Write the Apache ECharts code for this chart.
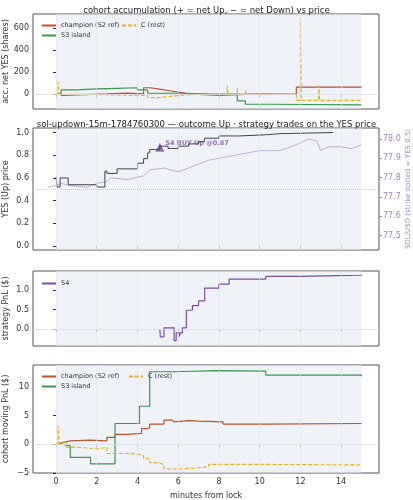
<!DOCTYPE html>
<html><head><meta charset="utf-8">
<script src="https://cdn.jsdelivr.net/npm/echarts@6/dist/echarts.min.js"></script>
<style>html,body{margin:0;padding:0;background:#fff}#c{width:413px;height:500px}</style>
</head><body><div id="c"></div>
<script>
// ---- data (minutes from lock, value) ----
const accChampion = [[0,0],[0.2,-10],[0.3,5],[2.5,12],[3.5,5],[4.3,60],[4.6,50],[5.0,35],[5.5,20],[6.0,5],[6.5,-10],[8.0,5],[10.0,0],[11.8,65],[15,65]];
const accS3 = [[0,0],[0.25,40],[1.0,50],[2.0,55],[3.0,60],[4.0,40],[4.5,10],[6.0,5],[7.5,2],[8.9,-60],[9.3,-90],[10.5,-95],[15,-95]];
const accC = [[0,0],[0.1,110],[0.15,0],[1.5,-10],[4.0,-10],[4.5,-30],[5.0,-20],[5.5,-10],[6.0,0],[7.0,5],[8.4,80],[8.45,5],[8.9,60],[8.95,5],[9.3,40],[9.35,5],[11.8,-55],[12.0,690],[12.05,-55],[12.9,80],[12.95,-55],[15,-55]];
const yesPrice = [[0,0.61],[0.05,0.52],[0.2,0.6],[0.6,0.54],[2.0,0.52],[2.4,0.66],[2.5,0.64],[3.0,0.68],[4.0,0.73],[4.3,0.77],[4.5,0.82],[4.6,0.85],[5.1,0.88],[5.5,0.86],[6.0,0.88],[6.5,0.9],[7.0,0.92],[7.3,0.95],[8.0,0.97],[9.0,0.98],[10.3,0.99],[11.0,1.0],[13.6,1.0]];
const solUsd = [[-0.4,77.75],[0.3,77.77],[0.6,77.76],[1.5,77.75],[2.0,77.77],[2.5,77.78],[2.7,77.80],[3.5,77.79],[4.3,77.81],[4.6,77.84],[5.3,77.85],[6.0,77.83],[6.5,77.85],[7.5,77.89],[8.5,77.91],[9.5,77.93],[10.0,77.94],[11.0,77.94],[11.8,77.97],[12.4,78.0],[12.8,77.99],[13.0,77.94],[13.4,77.96],[14.0,77.96],[14.5,77.95],[15.0,77.97]];
const s4Trade = [[5.1,0.87]];
const s4Pnl = [[5.1,0],[5.12,-0.2],[5.3,0.03],[5.8,-0.3],[5.9,-0.1],[6.05,-0.2],[6.1,-0.1],[6.2,0.03],[6.4,0.48],[6.7,0.6],[7.0,0.72],[7.3,1.05],[8.0,1.15],[8.5,1.28],[10.3,1.35],[12.0,1.38],[15,1.4]];
const pnlChampion = [[0,0],[0.2,0.3],[0.3,0.6],[0.7,0.7],[1.7,0.6],[2.5,1.2],[2.9,1.7],[3.5,1.9],[4.2,2.7],[4.5,2.9],[4.6,3.5],[5.3,4.2],[5.7,3.9],[5.8,4.1],[6.5,4.0],[7.0,3.9],[8.2,3.5],[10.3,3.6],[15,3.6]];
const pnlS3 = [[0,0],[0.3,-0.3],[0.7,-2.3],[1.7,-3.4],[2.9,3.6],[4.1,6.6],[4.6,12.6],[5.6,12.8],[8.0,12.7],[10.3,12.0],[15,11.8]];
const pnlC = [[0,0],[0.1,3.2],[0.15,0.3],[0.5,-0.5],[1.0,-0.8],[2.0,-0.6],[2.4,-0.5],[2.5,-1.6],[3.5,-1.7],[4.0,-2.0],[4.3,-2.5],[4.6,-3.2],[5.0,-3.5],[5.3,-4.3],[6.0,-4.1],[7.0,-3.9],[7.5,-3.5],[10.3,-3.6],[15,-3.6]];
const xTicks = [0,2,4,6,8,10,12,14];

const F = 'DejaVu Sans';
const RED='#c0522d', GREEN='#3a9a48', YEL='#e6b020', PURP='#7b4fa6', LPURP='#b9a7d8';
const grids = [[14,109],[128,250],[271,346],[365,473]];
const ch = echarts.init(document.getElementById('c'));
const xAx = (i) => ({type:'value', gridIndex:i, min:-1.13, max:15.86,
  axisLine:{show:false}, axisTick:{show:true, customValues:xTicks, lineStyle:{color:'#333'}, length:3},
  axisLabel:{show:i===3, customValues:xTicks, fontFamily:F, fontSize:8, color:'#333', margin:5},
  splitLine:{show:false}, nameMoveOverlap:false,
  name: i===3?'minutes from lock':'', nameLocation:'middle', nameGap:19, nameTextStyle:{fontFamily:F,fontSize:8,color:'#333'}});
const yAx = (i,min,max,ticks,name,extra) => Object.assign({type:'value', gridIndex:i, min, max,
  axisLine:{show:false}, axisTick:{show:true, customValues:ticks, length:3, lineStyle:{color:'#333'}},
  axisLabel:{customValues:ticks, fontFamily:F, fontSize:8, color:'#333', margin:4},
  splitLine:{show:false}, name, nameLocation:'middle', nameGap:23, nameMoveOverlap:false,
  nameTextStyle:{fontFamily:F,fontSize:8,color:'#333'}}, extra||{});
const bg = (i) => ({type:'line', xAxisIndex:i, yAxisIndex:i===0?0:(i===1?1:i+1), data:[], silent:true,
  markArea:{silent:true, itemStyle:{color:'rgba(228,232,245,0.55)'}, data:[[{xAxis:0},{xAxis:15}]]},
  markLine:{silent:true, symbol:'none', label:{show:false}, lineStyle:{color:'#e4e4e4', width:0.6, type:'solid'},
    data: xTicks.map(v=>({xAxis:v}))}});
const line = (name,data,xi,yi,color,opt) => Object.assign({type:'line', name, data, xAxisIndex:xi, yAxisIndex:yi,
  step:'end', showSymbol:false, symbol:'none', lineStyle:{color, width:1.2}, itemStyle:{color}, animation:false}, opt||{});
const dash = {lineStyle:{color:YEL, width:1.1, type:[4,2]}};
const zeroLine = (xi,yi,v,type) => ({type:'line', xAxisIndex:xi, yAxisIndex:yi, data:[], silent:true,
  markLine:{silent:true, symbol:'none', label:{show:false}, lineStyle:{color:type?'#bbb':'#ddd', width:0.8, type:type||'solid'}, data:[{yAxis:v}]}});
const LT = {fontFamily:F,fontSize:6.5,color:'#333'};

ch.setOption({
  animation:false,
  title:[
    {text:'cohort accumulation (+ = net Up, − = net Down) vs price', left:'center', top:1, textStyle:{fontFamily:F,fontSize:8.5,fontWeight:'normal',color:'#222'}},
    {text:'sol-updown-15m-1784760300 — outcome Up · strategy trades on the YES price', left:'center', top:115, textStyle:{fontFamily:F,fontSize:8.5,fontWeight:'normal',color:'#222'}}
  ],
  grid: grids.map(g=>({left:33, right:34, top:g[0], height:g[1]-g[0], outerBoundsMode:'none', containLabel:false, show:true, borderColor:'#555', borderWidth:1, backgroundColor:'transparent'})),
  legend:[
    {data:[{name:'champion (S2 ref)'},{name:'S3 island'}], left:36, top:17, orient:'vertical', itemWidth:14, itemHeight:2, itemGap:3, textStyle:LT, selectedMode:false},
    {data:[{name:'C (rest)'}], left:116, top:17, itemWidth:14, itemHeight:2, textStyle:LT, selectedMode:false},
    {data:[{name:'S4'}], left:36, top:275, itemWidth:14, itemHeight:2, textStyle:LT, selectedMode:false},
    {data:[{name:'champion (S2 ref)'},{name:'S3 island'}], left:36, top:368, orient:'vertical', itemWidth:14, itemHeight:2, itemGap:3, textStyle:LT, selectedMode:false},
    {data:[{name:'C (rest)'}], left:123, top:368, itemWidth:14, itemHeight:2, textStyle:LT, selectedMode:false}
  ],
  xAxis:[xAx(0),xAx(1),xAx(2),xAx(3)],
  yAxis:[
    yAx(0,-133,730,[0,200,400,600],'acc. net YES (shares)'),
    yAx(1,-0.035,1.04,[0,0.2,0.4,0.6,0.8,1.0],'YES (Up) price',{axisLabel:{customValues:[0,0.2,0.4,0.6,0.8,1.0],formatter:v=>v.toFixed(1),fontFamily:F,fontSize:8,color:'#333',margin:4}}),
    yAx(1,77.426,78.057,[77.5,77.6,77.7,77.8,77.9,78.0],'SOL/USD (strike dotted = YES 0.5)',{position:'right', nameGap:26,
      axisLabel:{customValues:[77.5,77.6,77.7,77.8,77.9,78.0],formatter:v=>v.toFixed(1),fontFamily:F,fontSize:8,color:'#9d86c6',margin:4},
      nameTextStyle:{fontFamily:F,fontSize:7,color:'#9d86c6'}, axisTick:{show:true,customValues:[77.5,77.6,77.7,77.8,77.9,78.0],length:3,lineStyle:{color:'#9d86c6'}}}),
    yAx(2,-0.436,1.487,[0,0.5,1.0],'strategy PnL ($)',{axisLabel:{customValues:[0,0.5,1.0],formatter:v=>v.toFixed(1),fontFamily:F,fontSize:8,color:'#333',margin:4}}),
    yAx(3,-5,13.77,[-5,0,5,10],'cohort moving PnL ($)',{axisLabel:{customValues:[-5,0,5,10],formatter:v=>v<0?'−'+(-v):''+v,fontFamily:F,fontSize:8,color:'#333',margin:4}})
  ],
  series:[
    bg(0),bg(1),bg(2),bg(3),
    zeroLine(0,0,0), zeroLine(1,1,0.5,[1,1]), zeroLine(2,3,0), zeroLine(3,4,0),
    line('champion (S2 ref)',accChampion,0,0,RED),
    line('S3 island',accS3,0,0,GREEN),
    line('C (rest)',accC,0,0,YEL,dash),
    line('SOL',solUsd,1,2,LPURP,{step:false, lineStyle:{color:LPURP,width:0.9}}),
    line('YES',yesPrice,1,1,'#444',{lineStyle:{color:'#444',width:1}}),
    {type:'scatter', xAxisIndex:1, yAxisIndex:1, data:s4Trade, symbol:'triangle', symbolSize:9, itemStyle:{color:PURP},
     label:{show:true, position:'right', distance:1, formatter:'S4 BUY Up @0.87', fontFamily:F, fontSize:6.5, fontWeight:'bold', color:PURP, offset:[0,-4]}},
    line('S4',s4Pnl,2,3,PURP),
    line('champion (S2 ref)',pnlChampion,3,4,RED),
    line('S3 island',pnlS3,3,4,GREEN),
    line('C (rest)',pnlC,3,4,YEL,dash)
  ]
});
</script></body></html>
